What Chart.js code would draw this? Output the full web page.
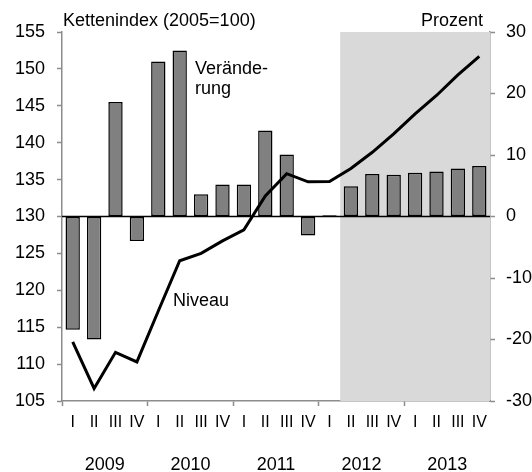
<!doctype html>
<html lang="de">
<head>
<meta charset="utf-8">
<title>Kettenindex</title>
<style>
  html, body { margin: 0; padding: 0; background: #fff; }
  #wrap { width: 532px; height: 472px; position: relative; }
</style>
</head>
<body>
<div id="wrap"><canvas id="chart" width="532" height="472"></canvas></div>
<script src="https://cdn.jsdelivr.net/npm/chart.js"></script>
<script>
// quarters 2009 I .. 2013 IV
const quarters = ["I","II","III","IV","I","II","III","IV","I","II","III","IV","I","II","III","IV","I","II","III","IV"];
const years = ["2009","2010","2011","2012","2013"];
// Veränderung in Prozent (right axis)
const change = [-18.4, -20.0, 18.6, -4.0, 25.2, 27.0, 3.6, 5.2, 5.2, 14.0, 10.1, -3.1, 0.2, 4.9, 6.9, 6.8, 7.1, 7.3, 7.8, 8.2];
// Niveau, Kettenindex 2005=100 (left axis)
const level = [113.0, 106.7, 111.6, 110.3, 117.2, 124.0, 125.0, 126.7, 128.2, 132.8, 135.8, 134.7, 134.75, 136.5, 138.7, 141.2, 143.9, 146.4, 149.2, 151.7];
const forecastFrom = 13; // shaded from 2012 II

const FONT = "'Liberation Sans', Arial, sans-serif";
const axisGrey = '#8c8c8c';

const extras = {
  id: 'extras',
  beforeDatasetsDraw(chart) {
    const {ctx, chartArea, scales} = chart;
    const x = scales.x;
    const step = x.getPixelForValue(1) - x.getPixelForValue(0);
    const x0 = x.getPixelForValue(forecastFrom) - step / 2;
    ctx.save();
    ctx.fillStyle = '#d9d9d9';
    ctx.fillRect(x0, chartArea.top, chartArea.right - x0, chartArea.bottom - chartArea.top);
    // zero line of the bars
    const y0 = scales.y1.getPixelForValue(0);
    ctx.strokeStyle = '#000';
    ctx.lineWidth = 1.5;
    ctx.beginPath();
    ctx.moveTo(chartArea.left, y0);
    ctx.lineTo(chartArea.right, y0);
    ctx.stroke();
    ctx.restore();
  },
  afterDraw(chart) {
    const {ctx, scales} = chart;
    const x = scales.x;
    ctx.save();
    ctx.fillStyle = '#000';
    ctx.font = '18px ' + FONT;
    ctx.textBaseline = 'middle';
    ctx.textAlign = 'center';
    years.forEach((yr, i) => {
      const cx = (x.getPixelForValue(i * 4 + 1) + x.getPixelForValue(i * 4 + 2)) / 2;
      ctx.fillText(yr, cx, 465);
    });
    ctx.textAlign = 'left';
    ctx.fillText('Kettenindex (2005=100)', 63, 21);
    ctx.textAlign = 'right';
    ctx.fillText('Prozent', 483, 21);
    ctx.textAlign = 'left';
    ctx.fillText('Verände-', 195, 69);
    ctx.fillText('rung', 195, 89);
    ctx.fillText('Niveau', 173, 301);
    ctx.restore();
  }
};

new Chart(document.getElementById('chart'), {
  data: {
    labels: quarters,
    datasets: [
      {
        type: 'line',
        label: 'Niveau',
        data: level,
        yAxisID: 'y',
        borderColor: '#000',
        borderWidth: 3,
        pointRadius: 0,
        tension: 0,
        order: 0
      },
      {
        type: 'bar',
        label: 'Veränderung',
        data: change,
        yAxisID: 'y1',
        backgroundColor: '#808080',
        borderColor: '#000',
        borderWidth: 1.5,
        borderSkipped: false,
        categoryPercentage: 0.67,
        barPercentage: 1.0,
        order: 1
      }
    ]
  },
  options: {
    responsive: false,
    animation: false,
    layout: { padding: { top: 32, left: 0, right: 0, bottom: 0 } },
    plugins: { legend: { display: false }, tooltip: { enabled: false } },
    scales: {
      x: {
        offset: true,
        border: { color: axisGrey, width: 1.5 },
        grid: {
          offset: true,
          drawOnChartArea: false,
          tickLength: 5,
          tickColor: c => (c.index % 4 === 0 ? axisGrey : 'transparent'),
          tickWidth: 1.5
        },
        ticks: { color: '#000', font: { family: FONT, size: 16 }, padding: 7, maxRotation: 0, autoSkip: false },
        afterFit: s => { s.height = 71; }
      },
      y: {
        position: 'left',
        min: 105, max: 155,
        border: { color: axisGrey, width: 1.5 },
        grid: { drawOnChartArea: false, tickLength: 5, tickColor: axisGrey, tickWidth: 1.5 },
        ticks: { stepSize: 5, color: '#000', font: { family: FONT, size: 18 }, padding: 12 },
        afterFit: s => { s.width = 62; }
      },
      y1: {
        position: 'right',
        min: -30, max: 30,
        border: { color: axisGrey, width: 1.5 },
        grid: { drawOnChartArea: false, tickLength: 5, tickColor: axisGrey, tickWidth: 1.5 },
        ticks: { stepSize: 10, color: '#000', font: { family: FONT, size: 18 }, padding: 11 },
        afterFit: s => { s.width = 42; }
      }
    }
  },
  plugins: [extras]
});
</script>
</body>
</html>
